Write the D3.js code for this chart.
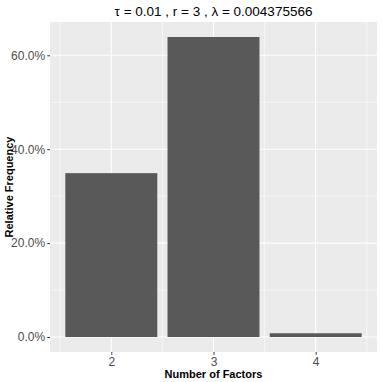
<!DOCTYPE html>
<html>
<head>
<meta charset="utf-8">
<script src="https://cdn.jsdelivr.net/npm/d3@7"></script>
<style>
  body { margin: 0; background: #fff; }
  svg text { font-family: "Liberation Sans", Arial, Helvetica, sans-serif; }
</style>
</head>
<body>
<div class="graph_wrapper"></div>
<script>
// values
var factors = ['2', '3', '4'];
var relFreq = [0.349, 0.639, 0.008];
var yTicks = [0, 0.2, 0.4, 0.6];
var yMinor = [0.1, 0.3, 0.5];
var title = 'τ = 0.01 , r = 3 , λ = 0.004375566';

var width = 382;
var height = 382;
var margin = { top: 22, right: 5, bottom: 30, left: 50 };
var pw = width - margin.left - margin.right;
var ph = height - margin.top - margin.bottom;

var svg = d3.select('.graph_wrapper').append('svg')
  .attr('width', width).attr('height', height);

var g = svg.append('g')
  .attr('transform', 'translate(' + margin.left + ',' + margin.top + ')');

// ggplot style expansion: 0.6 units each side for discrete x, 5% for y
var x = d3.scaleLinear().domain([1 - 0.6, factors.length + 0.6]).range([0, pw]);
var ymax = d3.max(relFreq);
var pad = ymax * 0.05;
var y = d3.scaleLinear().domain([-pad, ymax + pad]).range([ph, 0]);

g.append('rect').attr('width', pw).attr('height', ph).attr('fill', '#ebebeb');

// minor grid
g.selectAll('.ymin').data(yMinor).enter().append('line')
  .attr('x1', 0).attr('x2', pw)
  .attr('y1', function (d) { return y(d); }).attr('y2', function (d) { return y(d); })
  .attr('stroke', '#fff').attr('stroke-width', 0.55);
var xMinor = d3.range(0, factors.length + 1).map(function (i) { return i + 0.5; });
g.selectAll('.xmin').data(xMinor).enter().append('line')
  .attr('y1', 0).attr('y2', ph)
  .attr('x1', function (d) { return x(d); }).attr('x2', function (d) { return x(d); })
  .attr('stroke', '#fff').attr('stroke-width', 0.55);

// major grid
g.selectAll('.ymaj').data(yTicks).enter().append('line')
  .attr('x1', 0).attr('x2', pw)
  .attr('y1', function (d) { return y(d); }).attr('y2', function (d) { return y(d); })
  .attr('stroke', '#fff').attr('stroke-width', 1.1);
g.selectAll('.xmaj').data(factors).enter().append('line')
  .attr('y1', 0).attr('y2', ph)
  .attr('x1', function (d, i) { return x(i + 1); }).attr('x2', function (d, i) { return x(i + 1); })
  .attr('stroke', '#fff').attr('stroke-width', 1.1);

// bars
var bw = x(1.45) - x(0.55);
g.selectAll('.bar').data(relFreq).enter().append('rect')
  .attr('class', 'bar')
  .attr('x', function (d, i) { return x(i + 1) - bw / 2; })
  .attr('width', bw)
  .attr('y', function (d) { return y(d); })
  .attr('height', function (d) { return y(0) - y(d); })
  .attr('fill', '#595959');

// axes
var yAxis = d3.axisLeft(y).tickValues(yTicks).tickSize(2.75).tickPadding(2.2)
  .tickFormat(d3.format('.1%'));
var xAxis = d3.axisBottom(x).tickValues(factors.map(function (d, i) { return i + 1; }))
  .tickSize(2.75).tickPadding(2.5)
  .tickFormat(function (d) { return factors[d - 1]; });

var ya = g.append('g').call(yAxis);
var xa = g.append('g').attr('transform', 'translate(0,' + ph + ')').call(xAxis);
[ya, xa].forEach(function (a) {
  a.select('.domain').remove();
  a.selectAll('.tick line').attr('stroke', '#333').attr('stroke-width', 1);
  a.selectAll('.tick text').attr('fill', '#4d4d4d').style('font-size', '12px');
});

// titles
svg.append('text')
  .attr('x', margin.left + pw / 2).attr('y', 16)
  .attr('text-anchor', 'middle').style('font-size', '13.5px').attr('fill', '#000')
  .text(title);

svg.append('text')
  .attr('x', margin.left + pw / 2).attr('y', height - 4)
  .attr('text-anchor', 'middle').style('font-size', '11px').style('font-weight', 'bold')
  .text('Number of Factors');

svg.append('text')
  .attr('transform', 'translate(13,' + (margin.top + ph / 2) + ') rotate(-90)')
  .attr('text-anchor', 'middle').style('font-size', '11px').style('font-weight', 'bold')
  .text('Relative Frequency');
</script>
</body>
</html>
